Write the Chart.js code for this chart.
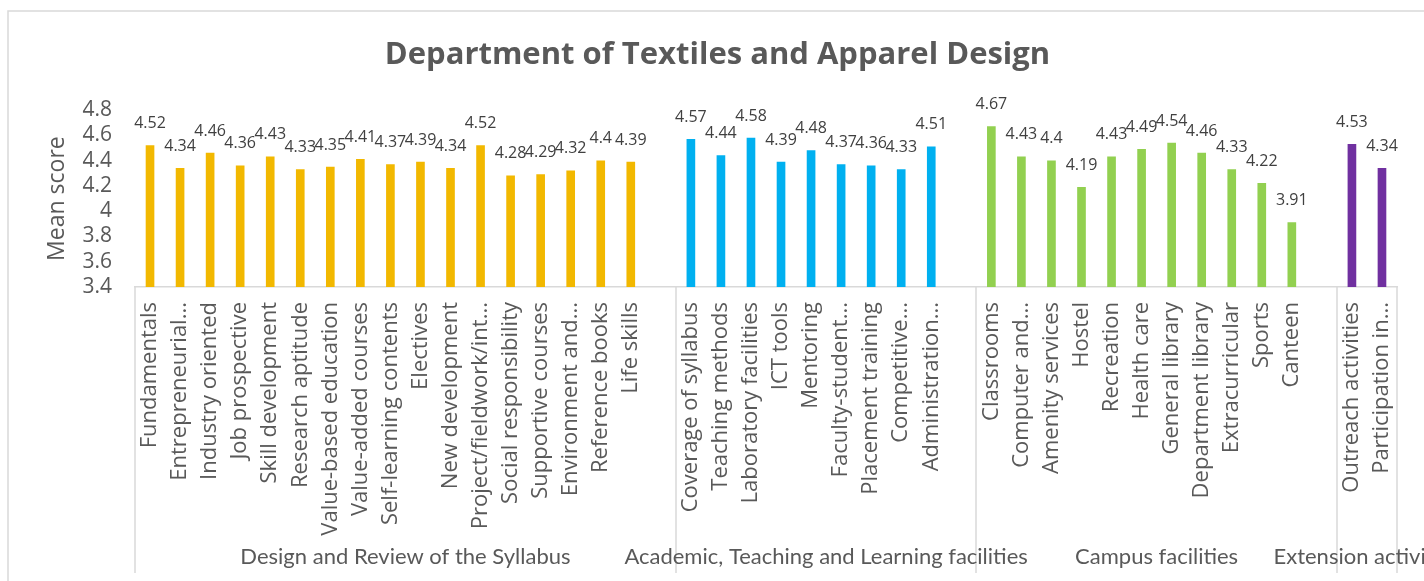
<!DOCTYPE html>
<html>
<head>
<meta charset="utf-8">
<script src="https://cdn.jsdelivr.net/npm/chart.js@4.4.1/dist/chart.umd.min.js"></script>
<style>
html,body{margin:0;padding:0;background:#fff;}
#wrap{width:1424px;height:581px;position:relative;}
</style>
</head>
<body>
<div id="wrap"><canvas id="c" width="1424" height="581"></canvas></div>
<script>
// ---- Data ----
const chartTitle = 'Department of Textiles and Apparel Design';
const yAxisTitle = 'Mean score';
const groupNames = ['Design and Review of the Syllabus', 'Academic, Teaching and Learning facilities', 'Campus facilities', 'Extension activities'];
const groupColors = ['#F2B800', '#00B0F0', '#92D050', '#7030A0'];

const syllabusItems = ['Fundamentals', 'Entrepreneurial...', 'Industry oriented', 'Job prospective', 'Skill development', 'Research aptitude', 'Value-based education', 'Value-added courses', 'Self-learning contents', 'Electives', 'New development', 'Project/fieldwork/int...', 'Social responsibility', 'Supportive courses', 'Environment and...', 'Reference books', 'Life skills'];
const syllabusScores = [4.52, 4.34, 4.46, 4.36, 4.43, 4.33, 4.35, 4.41, 4.37, 4.39, 4.34, 4.52, 4.28, 4.29, 4.32, 4.4, 4.39];

const academicItems = ['Coverage of syllabus', 'Teaching methods', 'Laboratory facilities', 'ICT tools', 'Mentoring', 'Faculty-student...', 'Placement training', 'Competitive...', 'Administration...'];
const academicScores = [4.57, 4.44, 4.58, 4.39, 4.48, 4.37, 4.36, 4.33, 4.51];

const campusItems = ['Classrooms', 'Computer and...', 'Amenity services', 'Hostel', 'Recreation', 'Health care', 'General library', 'Department library', 'Extracurricular', 'Sports', 'Canteen'];
const campusScores = [4.67, 4.43, 4.4, 4.19, 4.43, 4.49, 4.54, 4.46, 4.33, 4.22, 3.91];

const extensionItems = ['Outreach activities', 'Participation in...'];
const extensionScores = [4.53, 4.34];

const yMin = 3.4, yMax = 4.8, yStep = 0.2;

// ---- Build category axis (an empty category separates groups) ----
const groupItems = [syllabusItems, academicItems, campusItems, extensionItems];
const groupScores = [syllabusScores, academicScores, campusScores, extensionScores];
const labels = [], values = [], colors = [], groupStarts = [];
groupItems.forEach((items, g) => {
  groupStarts.push(labels.length);
  items.forEach((it, i) => { labels.push(it); values.push(groupScores[g][i]); colors.push(groupColors[g]); });
  if (g < groupItems.length - 1) { labels.push(''); values.push(null); colors.push('rgba(0,0,0,0)'); }
});
groupStarts.push(labels.length);

const TEXT = '#595959';
const LINE = '#D9D9D9';

const framePlugin = {
  id: 'frame',
  beforeDraw(chart) {
    const ctx = chart.ctx;
    ctx.save();
    ctx.fillStyle = '#fff';
    ctx.fillRect(0, 0, chart.width, chart.height);
    ctx.strokeStyle = LINE;
    ctx.lineWidth = 1.5;
    ctx.strokeRect(8, 11, chart.width + 20, chart.height + 20);
    ctx.restore();
  }
};

const valueLabelPlugin = {
  id: 'valueLabels',
  afterDatasetsDraw(chart) {
    const ctx = chart.ctx;
    const meta = chart.getDatasetMeta(0);
    ctx.save();
    ctx.font = '16px "Open Sans"';
    ctx.fillStyle = '#404040';
    ctx.textAlign = 'center';
    ctx.textBaseline = 'middle';
    meta.data.forEach((bar, i) => {
      const v = values[i];
      if (v === null) return;
      ctx.fillText(String(v), bar.x, bar.y - 22);
    });
    ctx.restore();
  }
};

const groupAxisPlugin = {
  id: 'groupAxis',
  afterDraw(chart) {
    const x = chart.scales.x;
    const area = chart.chartArea;
    const ctx = chart.ctx;
    const half = (x.getPixelForValue(1) - x.getPixelForValue(0)) / 2;
    const edge = (idx) => idx >= labels.length ? x.getPixelForValue(labels.length - 1) + half : x.getPixelForValue(idx) - half;
    const bottomY = chart.height - 8;
    ctx.save();
    ctx.strokeStyle = LINE;
    ctx.lineWidth = 1.5;
    groupStarts.forEach((s) => {
      const px = Math.round(edge(s));
      ctx.beginPath();
      ctx.moveTo(px, area.bottom);
      ctx.lineTo(px, bottomY);
      ctx.stroke();
    });
    ctx.font = '22px Lato';
    ctx.fillStyle = TEXT;
    ctx.textAlign = 'center';
    ctx.textBaseline = 'middle';
    groupNames.forEach((name, g) => {
      const cx = (edge(groupStarts[g]) + edge(groupStarts[g + 1])) / 2;
      ctx.fillText(name, cx, 557);
    });
    ctx.restore();
  }
};

new Chart(document.getElementById('c'), {
  type: 'bar',
  data: {
    labels: labels,
    datasets: [{
      data: values,
      backgroundColor: colors,
      barThickness: 8,
      skipNull: true
    }]
  },
  options: {
    responsive: false,
    animation: false,
    devicePixelRatio: 1,
    layout: { padding: { left: 38, right: 27, top: 0, bottom: 0 } },
    plugins: {
      legend: { display: false },
      tooltip: { enabled: false },
      title: {
        display: true,
        text: chartTitle,
        color: TEXT,
        font: { family: '"Open Sans"', size: 31, weight: 'bold', lineHeight: 1.2 },
        padding: { top: 37, bottom: 36 }
      }
    },
    scales: {
      x: {
        grid: { display: false, drawTicks: false },
        border: { display: true, color: LINE, width: 1.5 },
        ticks: {
          autoSkip: false,
          minRotation: 90,
          maxRotation: 90,
          padding: 15,
          color: TEXT,
          font: { family: '"Open Sans"', size: 22 }
        },
        afterFit(scale) { scale.height = 294; }
      },
      y: {
        min: yMin,
        max: yMax,
        grid: { display: false, drawTicks: false },
        border: { display: false },
        ticks: {
          autoSkip: false,
          stepSize: yStep,
          padding: 23,
          color: TEXT,
          font: { family: '"Open Sans"', size: 21 },
          callback: (v) => String(Number(v.toFixed(1)))
        },
        title: {
          display: true,
          text: yAxisTitle,
          color: TEXT,
          font: { family: '"Open Sans"', size: 23 },
          padding: { top: 6, bottom: 0 }
        },
        afterFit(scale) { scale.width = 97; }
      }
    }
  },
  plugins: [framePlugin, valueLabelPlugin, groupAxisPlugin]
});
</script>
</body>
</html>
